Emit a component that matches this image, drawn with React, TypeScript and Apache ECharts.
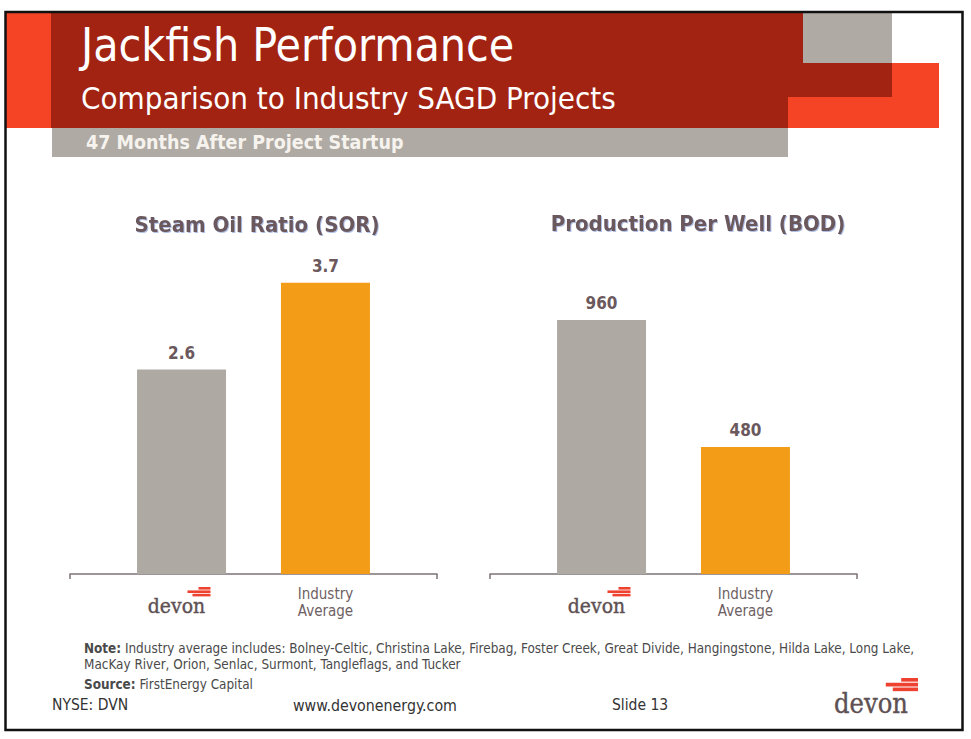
import React, { useEffect, useRef } from "react";
import * as echarts from "echarts";

// chart data
const categories = ["devon", "Industry Average"];
const sorValues = [2.6, 3.7];
const bodValues = [960, 480];
const barColors = ["#AEA9A3", "#F39C18"];
const chartTitles = ["Steam Oil Ratio (SOR)", "Production Per Well (BOD)"];
const yMax = [5, 1500];

const noteLines = [
  "Industry average includes: Bolney-Celtic, Christina Lake, Firebag, Foster Creek, Great Divide, Hangingstone, Hilda Lake, Long Lake,",
  "MacKay River, Orion, Senlac, Surmont, Tangleflags, and Tucker",
];

const FONT = '"DejaVu Sans Condensed", "DejaVu Sans", sans-serif';
const SERIF = '"DejaVu Serif", serif';
const TEXT = "#6A585C";
const DARK_RED = "#A22312";
const RED = "#F44325";
const GRAY = "#AFAAA3";
const LOGO_RED = "#EE4130";
const X_MIN = -0.775;
const X_MAX = 1.775;

// devon logo: text + three red stripes
const devonLogo = (cx: number, baseline: number, fs: number, stripeRight: number, stripeTop: number, s: number) => ({
  type: "group",
  children: [
    { type: "rect", shape: { x: stripeRight - 12 * s, y: stripeTop, width: 12 * s, height: 2.6 * s }, style: { fill: LOGO_RED } },
    { type: "rect", shape: { x: stripeRight - 23 * s, y: stripeTop + 3.4 * s, width: 23 * s, height: 2.6 * s }, style: { fill: LOGO_RED } },
    { type: "rect", shape: { x: stripeRight - 18 * s, y: stripeTop + 6.8 * s, width: 18 * s, height: 2.6 * s }, style: { fill: LOGO_RED } },
    {
      type: "text",
      x: cx,
      y: baseline - 0.35 * fs,
      scaleX: 0.9,
      style: { text: "devon", font: `${fs}px ${SERIF}`, fill: "#5E5053", align: "center", verticalAlign: "middle", stroke: "#5E5053", lineWidth: 0.4 },
    },
  ],
});

const App: React.FC = () => {
  const chartRef = useRef<HTMLDivElement>(null);

  useEffect(() => {
    if (!chartRef.current) return;
    const chart = echarts.init(chartRef.current, undefined, { renderer: "svg" });

    const grids = [
      { left: 70, top: 180.5, width: 367, height: 393.5 },
      { left: 490, top: 177, width: 367, height: 397 },
    ];
    const barCenters = [181.5, 601.5];

    const option = {
      animation: false,
      grid: grids,
      xAxis: grids.map((_, g) => ({
        type: "value",
        gridIndex: g,
        min: X_MIN,
        max: X_MAX,
        axisLine: { show: true, lineStyle: { color: "#7D7375", width: 1.5 } },
        axisTick: { show: true, customValues: [X_MIN, X_MAX], length: 5, lineStyle: { color: "#7D7375", width: 1.5 } },
        axisLabel: {
          customValues: [0, 1],
          formatter: (v: number) => (v === 1 ? categories[1].replace(" ", "\n") : ""),
          fontFamily: FONT,
          fontSize: 15,
          lineHeight: 17,
          color: "#6E6164",
          margin: 11,
        },
        splitLine: { show: false },
      })),
      yAxis: grids.map((_, g) => ({ type: "value", gridIndex: g, min: 0, max: yMax[g], show: false })),
      series: [sorValues, bodValues].map((vals, g) => ({
        type: "bar",
        xAxisIndex: g,
        yAxisIndex: g,
        barWidth: 89,
        data: vals.map((v, i) => ({ value: [i, v], itemStyle: { color: barColors[i] } })),
        label: {
          show: true,
          position: "top",
          distance: 8,
          formatter: (p: any) => String(p.value[1]),
          fontFamily: FONT,
          fontSize: 17,
          fontWeight: "bold",
          color: TEXT,
        },
      })),
      graphic: [
        // header blocks
        { type: "rect", shape: { x: 788, y: 63, width: 151, height: 65 }, style: { fill: RED } },
        { type: "rect", shape: { x: 6, y: 13, width: 45, height: 115 }, style: { fill: RED } },
        { type: "rect", shape: { x: 51, y: 13, width: 841, height: 84 }, style: { fill: DARK_RED } },
        { type: "rect", shape: { x: 51, y: 97, width: 737, height: 31 }, style: { fill: DARK_RED } },
        { type: "rect", shape: { x: 803, y: 13, width: 89, height: 50 }, style: { fill: GRAY } },
        { type: "rect", shape: { x: 52, y: 128, width: 736, height: 29 }, style: { fill: GRAY } },
        {
          type: "text",
          x: 81,
          y: 45,
          style: { text: "Jackfish Performance", font: `46px ${FONT}`, fill: "#FFFFFF", verticalAlign: "middle" },
        },
        {
          type: "text",
          x: 81,
          y: 98,
          style: { text: "Comparison to Industry SAGD Projects", font: `31px ${FONT}`, fill: "#FFFFFF", verticalAlign: "middle" },
        },
        {
          type: "text",
          x: 86,
          y: 142,
          style: { text: "47 Months After Project Startup", font: `bold 19.5px ${FONT}`, fill: "#F6F3EE", verticalAlign: "middle" },
        },
        // chart titles
        ...chartTitles.map((t, i) => ({
          type: "text",
          x: [257, 698][i],
          y: [224, 223][i],
          style: {
            text: t,
            font: `bold 22px ${FONT}`,
            fill: TEXT,
            align: "center",
            verticalAlign: "middle",
            textShadowColor: "rgba(110,140,210,0.55)",
            textShadowOffsetX: 1,
            textShadowOffsetY: 1,
            textShadowBlur: 1,
          },
        })),
        // devon logos under the first bars
        ...barCenters.map((c) => devonLogo(c - 5, 613, 21, c + 29, 587, 1)),
        // notes
        {
          type: "text",
          x: 84,
          y: 648,
          style: {
            text: `{b|Note:} ${noteLines[0]}`,
            font: `13.4px ${FONT}`,
            fill: "#4A4A4A",
            verticalAlign: "middle",
            rich: { b: { fontWeight: "bold", fontFamily: FONT, fontSize: 13.4, fill: "#4A4A4A" } },
          },
        },
        {
          type: "text",
          x: 84,
          y: 664,
          style: { text: noteLines[1], font: `13.4px ${FONT}`, fill: "#4A4A4A", verticalAlign: "middle" },
        },
        {
          type: "text",
          x: 84,
          y: 684,
          style: {
            text: "{b|Source:} FirstEnergy Capital",
            font: `13.4px ${FONT}`,
            fill: "#4A4A4A",
            verticalAlign: "middle",
            rich: { b: { fontWeight: "bold", fontFamily: FONT, fontSize: 13.4, fill: "#4A4A4A" } },
          },
        },
        // footer
        { type: "text", x: 52, y: 705, style: { text: "NYSE: DVN", font: `15.5px ${FONT}`, fill: "#333333", verticalAlign: "middle" } },
        { type: "text", x: 293, y: 705, style: { text: "www.devonenergy.com", font: `15.8px ${FONT}`, fill: "#333333", verticalAlign: "middle" } },
        { type: "text", x: 612, y: 705, style: { text: "Slide 13", font: `15.5px ${FONT}`, fill: "#333333", verticalAlign: "middle" } },
        devonLogo(871, 713, 27, 918, 678, 1.4),
        // slide frame
        {
          type: "rect",
          shape: { x: 5.5, y: 12, width: 957, height: 718 },
          style: { fill: "none", stroke: "#111111", lineWidth: 2.5 },
          z: 10,
        },
      ],
    };

    chart.setOption(option as any);

    return () => {
      chart.dispose();
    };
  }, []);

  return (
    <div
      ref={chartRef}
      style={{ position: "absolute", left: 0, top: 0, width: "971px", height: "739px", background: "#FFFFFF" }}
    ></div>
  );
};

export default App;
